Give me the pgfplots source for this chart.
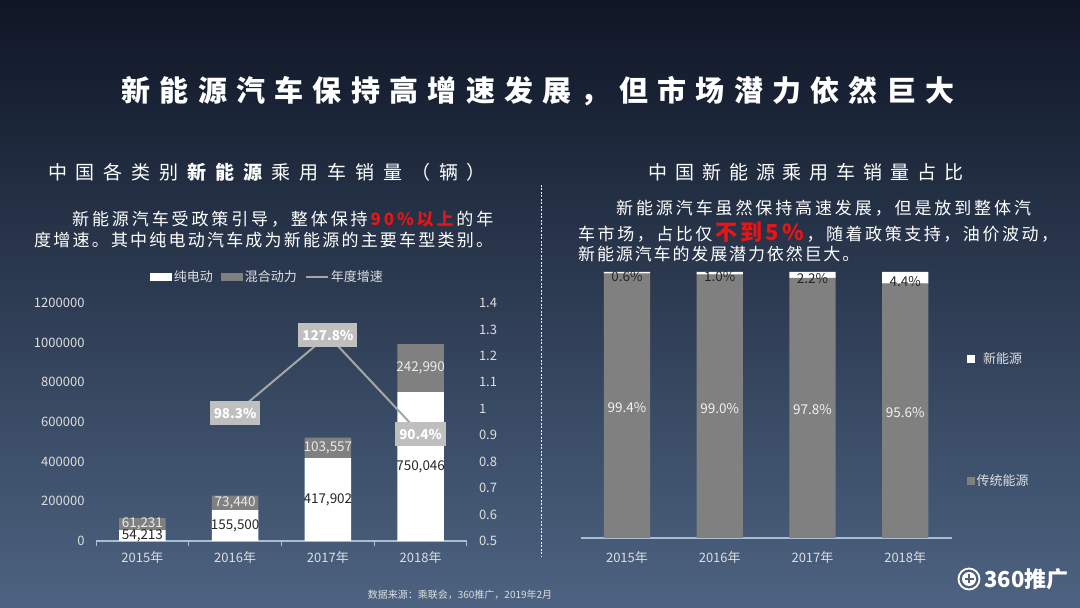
\documentclass[border=0pt]{standalone}
\usepackage{fontspec}
\usepackage{pgfplots}
\pgfplotsset{compat=1.18}
\setmainfont{Noto Sans CJK SC}
\newfontfamily\titlefont[LetterSpace=32]{Noto Sans CJK SC}
\newfontfamily\subfont[LetterSpace=47]{Noto Sans CJK SC}
\newfontfamily\rsubfont[LetterSpace=42]{Noto Sans CJK SC}
\newfontfamily\parafont[LetterSpace=11]{Noto Sans CJK SC}
\newfontfamily\parafontm[LetterSpace=13]{Noto Sans CJK SC}
\newfontfamily\parafontx[LetterSpace=15]{Noto Sans CJK SC}
\newfontfamily\parafontw[LetterSpace=17]{Noto Sans CJK SC}

\definecolor{bgtop}{RGB}{15,22,38}
\definecolor{bgbot}{RGB}{77,99,129}
\definecolor{axline}{RGB}{170,190,210}
\definecolor{ticktxt}{RGB}{222,222,222}
\definecolor{bargrey}{RGB}{128,128,128}
\definecolor{boxgrey}{RGB}{191,191,191}
\definecolor{linegrey}{RGB}{166,166,166}
\definecolor{darktxt}{RGB}{38,38,38}
\definecolor{hired}{RGB}{235,20,20}

\pgfkeys{/pgf/number format/assume math mode=true}

\pgfplotsset{
  slide/.style={scale only axis, anchor=south west, width=371pt,
    xmin=-0.5, xmax=3.5, clip=false,
    tick label style={font=\fontsize{13}{15}\selectfont, text=ticktxt}},
}
\tikzset{lbl/.style={font=\fontsize{13.5}{15}\selectfont, anchor=center, inner sep=1pt}}

\begin{document}
\begin{tikzpicture}
\shade[top color=bgtop, bottom color=bgbot] (0pt,0pt) rectangle (1080pt,608pt);

% headings and text
\node[text=white, font=\titlefont\fontsize{29}{32}\selectfont\bfseries] at (538pt,516.5pt)
  {新能源汽车保持高增速发展，但市场潜力依然巨大};
\node[text=white, font=\subfont\fontsize{19}{22}\selectfont] at (267pt,436pt)
  {中国各类别\kern0.47em{\bfseries 新能源}\kern0.47em 乘用车销量（辆）};
\node[text=white, font=\rsubfont\fontsize{19}{22}\selectfont] at (806pt,436pt)
  {中国新能源乘用车销量占比};

\begin{scope}[every node/.style={anchor=west, text=white, inner sep=0pt, font=\parafont\fontsize{17}{20}\selectfont}]
\node[font=\parafontw\fontsize{17}{20}\selectfont] at (72pt,389pt) {新能源汽车受政策引导，整体保持\kern0.17em{\color{hired}\bfseries 90\%以上}\kern0.17em 的年};
\node[font=\parafontm\fontsize{17}{20}\selectfont] at (34pt,368pt) {度增速。其中纯电动汽车成为新能源的主要车型类别。};
\node[font=\parafontw\fontsize{17}{20}\selectfont] at (616pt,400pt) {新能源汽车虽然保持高速发展，但是放到整体汽};
\node[font=\parafontx\fontsize{17}{20}\selectfont] at (578pt,376pt) {车市场，占比仅\kern0.15em{\color{hired}\bfseries\fontsize{22}{24}\selectfont 不到5\%}\kern0.15em，随着政策支持，油价波动，};
\node at (578pt,354pt) {新能源汽车的发展潜力依然巨大。};
\end{scope}

\draw[white!85!axline, line width=0.8pt, dash pattern=on 2pt off 1.5pt] (541pt,423pt) -- (541pt,51pt);

\node[text=ticktxt, font=\fontsize{10}{12}\selectfont] at (460pt,13pt)
  {数据来源：乘联会，360推广，2019年2月};
\draw[white, line width=1.8pt] (969pt,29pt) circle (10.5pt);
\fill[white] (969pt,29pt) circle (7pt);
\draw[bgbot, line width=2pt] (964.5pt,29pt) -- (973.5pt,29pt) (969pt,24.5pt) -- (969pt,33.5pt);
\node[anchor=west, text=white, inner sep=0pt, font=\fontsize{22}{24}\selectfont\bfseries] at (984pt,29pt) {360推广};

% ---------- left chart: sales ----------
\begin{axis}[slide, at={(96pt,67pt)}, height=238pt,
  ybar stacked, bar width=0.5,
  ymin=0, ymax=1200000,
  xtick={0,1,2,3}, xticklabels={2015年,2016年,2017年,2018年},
  minor xtick={-0.5,0.5,1.5,2.5,3.5},
  axis x line*=bottom, axis y line*=left,
  x axis line style={draw=axline, line width=1.2pt, -},
  y axis line style={draw=none},
  major tick length=0pt, minor tick length=5pt, tick align=outside,
  minor x tick style={draw=axline, line width=1pt},
  ytick={0,200000,400000,600000,800000,1000000,1200000},
  scaled y ticks=false,
  yticklabel style={/pgf/number format/fixed, /pgf/number format/1000 sep={}, xshift=-8pt},
  xticklabel style={yshift=-7pt},
  legend columns=3,
  legend style={at={(0.462,1.109)}, anchor=center, draw=none, fill=none,
    text=ticktxt, font=\fontsize{13}{15}\selectfont, inner sep=0pt,
    /tikz/every even column/.append style={column sep=6pt}},
]
\addplot[fill=white, draw=none,
  legend image code/.code={\fill[white] (0pt,-4pt) rectangle (22pt,4pt);}]
  coordinates {(0,54213) (1,155500) (2,417902) (3,750046)};
\addlegendentry{纯电动}
\addplot[fill=bargrey, draw=none,
  legend image code/.code={\fill[bargrey] (0pt,-4pt) rectangle (22pt,4pt);}]
  coordinates {(0,61231) (1,73440) (2,103557) (3,242990)};
\addlegendentry{混合动力}
\addlegendimage{legend image code/.code={\draw[linegrey, line width=2pt] (0pt,0pt) -- (22pt,0pt);}}
\addlegendentry{年度增速}
\end{axis}

% segment labels, centred in each segment
\begin{axis}[slide, at={(96pt,67pt)}, height=238pt, hide axis,
  ymin=0, ymax=1200000]
\addplot[draw=none, mark=none, nodes near coords, point meta=explicit symbolic,
  nodes near coords style={lbl, text=darktxt}]
  table[meta=lab] {
x y lab
0 27106 54,213
1 77750 155,500
2 208951 417,902
3 375023 750,046
};
\addplot[draw=none, mark=none, nodes near coords, point meta=explicit symbolic,
  nodes near coords style={lbl, text=white!92!black}]
  table[meta=lab] {
x y lab
0 84829 61,231
1 192220 73,440
2 469681 103,557
3 871541 242,990
};
\end{axis}

% growth rate on the right axis
\begin{axis}[slide, at={(96pt,67pt)}, height=238pt,
  ymin=0.5, ymax=1.4,
  hide x axis, axis y line*=right, y axis line style={draw=none},
  major tick length=0pt,
  ytick={0.5,0.6,0.7,0.8,0.9,1,1.1,1.2,1.3,1.4},
  yticklabels={0.5,0.6,0.7,0.8,0.9,1,1.1,1.2,1.3,1.4},
  yticklabel style={xshift=8.5pt},
]
\addplot[linegrey, line width=2pt, mark=none,
  nodes near coords={\pgfplotspointmeta\%}, point meta=explicit symbolic,
  nodes near coords style={anchor=center, fill=boxgrey, text=white,
    font=\fontsize{13.5}{15}\selectfont\bfseries, minimum height=24pt, inner xsep=4pt}]
  table[meta=lab] {
x y lab
1 0.983 98.3
2 1.278 127.8
3 0.904 90.4
};
\end{axis}

% ---------- right chart: share ----------
\begin{axis}[slide, at={(580.6pt,70pt)}, height=266pt,
  ybar stacked, bar width=0.5, ymin=0, ymax=100,
  xtick={0,1,2,3}, xticklabels={2015年,2016年,2017年,2018年}, ytick=\empty,
  axis x line*=bottom, axis y line*=left, y axis line style={draw=none},
  x axis line style={draw=axline, line width=1.2pt, -},
  major tick length=0pt,
  xticklabel style={yshift=-10pt},
  reverse legend,
  legend style={at={(1.04,0.444)}, anchor=west, draw=none, fill=none,
    text=ticktxt, font=\fontsize{13}{15}\selectfont, inner sep=0pt, row sep=106pt},
]
\addplot[fill=bargrey, draw=none,
  legend image code/.code={\fill[bargrey] (0pt,-4pt) rectangle (8pt,4pt);}]
  coordinates {(0,99.4) (1,99.0) (2,97.8) (3,95.6)};
\addlegendentry{传统能源}
\addplot[fill=white, draw=none,
  legend image code/.code={\fill[white] (0pt,-4pt) rectangle (8pt,4pt);}]
  coordinates {(0,0.6) (1,1.0) (2,2.2) (3,4.4)};
\addlegendentry{新能源}
\end{axis}

\begin{axis}[slide, at={(580.6pt,70pt)}, height=266pt, hide axis, ymin=0, ymax=100]
\addplot[draw=none, mark=none, nodes near coords, point meta=explicit symbolic,
  nodes near coords style={lbl, text=darktxt, yshift=-3.5pt}]
  table[meta=lab] {
x y lab
0 99.7 0.6\%
1 99.5 1.0\%
2 98.9 2.2\%
3 97.8 4.4\%
};
\addplot[draw=none, mark=none, nodes near coords, point meta=explicit symbolic,
  nodes near coords style={lbl, text=white!95!black, yshift=-2pt}]
  table[meta=lab] {
x y lab
0 49.7 99.4\%
1 49.5 99.0\%
2 48.9 97.8\%
3 47.8 95.6\%
};
\end{axis}

\pgfresetboundingbox
\path[use as bounding box] (0pt,0pt) rectangle (1080pt,608pt);
\end{tikzpicture}
\end{document}
